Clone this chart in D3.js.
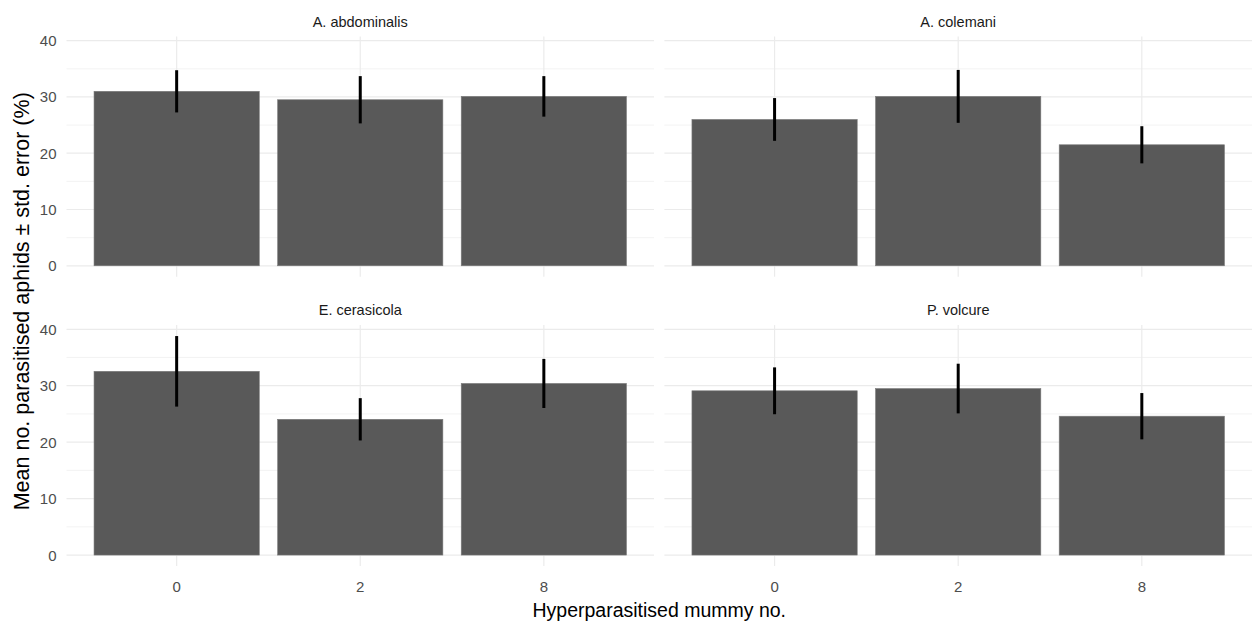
<!DOCTYPE html>
<html>
<head>
<meta charset="utf-8">
<script src="https://cdn.jsdelivr.net/npm/d3@7"></script>
<style>
  html, body { margin: 0; padding: 0; background: #fff; }
  svg text { font-family: "Liberation Sans", Arial, sans-serif; }
</style>
</head>
<body>
<svg id="chart" width="1253" height="623"></svg>
<script>
// Facets (parasitoid species), in panel order
const species = ["A. abdominalis", "A. colemani", "E. cerasicola", "P. volcure"];
// Hyperparasitised mummy counts on the x axis
const mummies = ["0", "2", "8"];
// Mean % parasitised aphids, one array per species
const meanAbdominalis = [31.0, 29.5, 30.1];
const meanColemani    = [26.0, 30.1, 21.5];
const meanCerasicola  = [32.55, 24.05, 30.4];
const meanVolcure     = [29.1, 29.5, 24.6];
// Standard errors
const seAbdominalis = [3.75, 4.2, 3.6];
const seColemani    = [3.8, 4.7, 3.3];
const seCerasicola  = [6.25, 3.75, 4.35];
const seVolcure     = [4.15, 4.4, 4.1];
// Y axis ticks
const majorTicks = [0, 10, 20, 30, 40];
const minorTicks = [5, 15, 25, 35];

const means = [meanAbdominalis, meanColemani, meanCerasicola, meanVolcure];
const ses = [seAbdominalis, seColemani, seCerasicola, seVolcure];

const panels = species.map((sp, i) => ({
  name: sp,
  col: i % 2,
  row: Math.floor(i / 2),
  data: mummies.map((m, j) => ({ m, mean: means[i][j], se: ses[i][j] }))
}));

const svg = d3.select("#chart");

// Panel geometry
const colX = [[66.5, 654], [664.4, 1252]];
const rowY = [[36.5, 276.7], [325.1, 566]];

// Shared y scale with 5% expansion of the data range
const yMax = d3.max(panels, p => d3.max(p.data, d => d.mean + d.se));
const yMin = 0;
const pad = (yMax - yMin) * 0.05;
const yDomain = [yMin - pad, yMax + pad];

panels.forEach(p => {
  const [x0, x1] = colX[p.col];
  const [y0, y1] = rowY[p.row];
  const x = d3.scalePoint().domain(mummies).range([x0, x1]).padding(0.6);
  const y = d3.scaleLinear().domain(yDomain).range([y1, y0]);
  const bw = x.step() * 0.9;

  const g = svg.append("g");

  // minor gridlines
  g.selectAll(".minor").data(minorTicks).join("line")
    .attr("x1", x0).attr("x2", x1)
    .attr("y1", d => y(d)).attr("y2", d => y(d))
    .attr("stroke", "#f0f0f0").attr("stroke-width", 0.8);
  // major gridlines
  g.selectAll(".major").data(majorTicks).join("line")
    .attr("x1", x0).attr("x2", x1)
    .attr("y1", d => y(d)).attr("y2", d => y(d))
    .attr("stroke", "#ebebeb").attr("stroke-width", 1.2);
  g.selectAll(".vgrid").data(mummies).join("line")
    .attr("x1", d => x(d)).attr("x2", d => x(d))
    .attr("y1", y0).attr("y2", y1)
    .attr("stroke", "#ebebeb").attr("stroke-width", 1.2);

  // bars
  g.selectAll(".bar").data(p.data).join("rect")
    .attr("x", d => x(d.m) - bw / 2)
    .attr("width", bw)
    .attr("y", d => y(d.mean))
    .attr("height", d => y(0) - y(d.mean))
    .attr("fill", "#595959")
    .attr("stroke", "#7a7a7a").attr("stroke-width", 0.6);

  // error bars
  g.selectAll(".err").data(p.data).join("line")
    .attr("x1", d => x(d.m)).attr("x2", d => x(d.m))
    .attr("y1", d => y(d.mean - d.se)).attr("y2", d => y(d.mean + d.se))
    .attr("stroke", "#000").attr("stroke-width", 3);

  // strip title
  g.append("text")
    .attr("x", (x0 + x1) / 2).attr("y", y0 - 10)
    .attr("text-anchor", "middle")
    .attr("font-size", 14.5).attr("fill", "#1a1a1a")
    .text(p.name);

  // y tick labels on left column
  if (p.col === 0) {
    g.selectAll(".ytl").data(majorTicks).join("text")
      .attr("x", x0 - 10).attr("y", d => y(d) + 5.5)
      .attr("text-anchor", "end")
      .attr("font-size", 15).attr("fill", "#4d4d4d")
      .text(d => d);
  }
  // x tick labels on bottom row
  if (p.row === 1) {
    g.selectAll(".xtl").data(mummies).join("text")
      .attr("x", d => x(d)).attr("y", y1 + 25.5)
      .attr("text-anchor", "middle")
      .attr("font-size", 15).attr("fill", "#4d4d4d")
      .text(d => d);
  }
});

// axis titles
svg.append("text")
  .attr("x", (colX[0][0] + colX[1][1]) / 2).attr("y", 617)
  .attr("text-anchor", "middle")
  .attr("font-size", 19.5).attr("fill", "#000")
  .text("Hyperparasitised mummy no.");

svg.append("text")
  .attr("transform", `translate(29, ${(rowY[0][0] + rowY[1][1]) / 2}) rotate(-90)`)
  .attr("text-anchor", "middle")
  .attr("font-size", 21.5).attr("fill", "#000")
  .text("Mean no. parasitised aphids ± std. error (%)");
</script>
</body>
</html>
